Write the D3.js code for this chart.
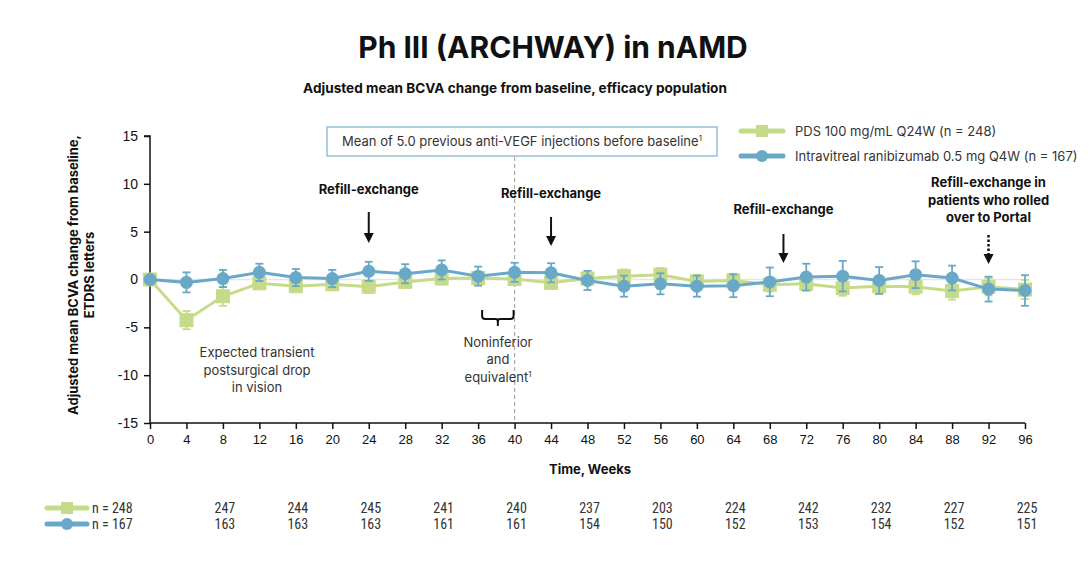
<!DOCTYPE html>
<html>
<head>
<meta charset="utf-8">
<script src="https://cdn.jsdelivr.net/npm/d3@7"></script>
<style>
  body { margin:0; background:#fff; }
  svg text { font-family: Inter, "Noto Sans", sans-serif; }
</style>
</head>
<body>
<div id="plot"></div>
<script>
// data
var weeks = [0,4,8,12,16,20,24,28,32,36,40,44,48,52,56,60,64,68,72,76,80,84,88,92,96];
var pds = [0,-4.25,-1.75,-0.4,-0.7,-0.5,-0.75,-0.25,0.1,0.15,0.05,-0.35,0.1,0.35,0.5,-0.2,-0.1,-0.55,-0.45,-0.9,-0.7,-0.75,-1.2,-0.75,-1.05];
var pdsErr = [0,0.95,1.0,0.6,0.6,0.6,0.65,0.6,0.6,0.65,0.6,0.6,0.6,0.7,0.7,0.7,0.7,0.7,0.7,0.8,0.8,0.8,0.9,0.9,1.0];
var rani = [0,-0.3,0.1,0.75,0.2,0.1,0.85,0.6,1.0,0.35,0.75,0.7,-0.1,-0.7,-0.45,-0.7,-0.65,-0.25,0.25,0.35,-0.1,0.5,0.15,-1.0,-1.15];
var raniErr = [0,1.05,0.9,0.9,0.9,0.9,1.0,1.0,1.0,1.0,1.0,1.0,1.0,1.1,1.1,1.1,1.2,1.5,1.4,1.6,1.4,1.4,1.3,1.3,1.6];
var yTicks = [15,10,5,0,-5,-10,-15];
var nWeeks = [8,16,24,32,40,48,56,64,72,80,88,96];
var nPds = [247,244,245,241,240,237,203,224,242,232,227,225];
var nRani = [163,163,163,161,161,154,150,152,153,154,152,151];
var refills = [
  {w:24, lines:['Refill-exchange'], ty:194, a0:212, a1:243, dotted:false},
  {w:44, lines:['Refill-exchange'], ty:198, a0:217, a1:246, dotted:false},
  {w:69.5, lines:['Refill-exchange'], ty:214, a0:234, a1:263, dotted:false},
  {w:92, lines:['Refill-exchange in','patients who rolled','over to Portal'], ty:187, a0:235, a1:264, dotted:true}
];

var green = '#c5db89', blue = '#69a9c7';

var W = 1092, H = 565;
var svg = d3.select('#plot').append('svg').attr('width',W).attr('height',H);

var x = d3.scaleLinear().domain([0,96]).range([150,1025]);
var y = d3.scaleLinear().domain([-15,15]).range([423,136]);

// title
svg.append('text').attr('x',553).attr('y',58).attr('text-anchor','middle')
  .style('font-size','30px').style('font-weight','700').style('fill','#111')
  .text('Ph III (ARCHWAY) in nAMD');
svg.append('text').attr('x',515).attr('y',93).attr('text-anchor','middle')
  .style('font-size','13.6px').style('font-weight','700').style('fill','#111')
  .text('Adjusted mean BCVA change from baseline, efficacy population');

// zero reference line
svg.append('line').attr('x1',x(0)).attr('x2',x(96)).attr('y1',y(0)).attr('y2',y(0))
  .attr('stroke','#e6e6e6').attr('stroke-width',1.5);

// axes
var yAxis = svg.append('g').attr('transform','translate(150,0)')
  .call(d3.axisLeft(y).tickValues(yTicks).tickFormat(String).tickSize(6).tickPadding(6));
var xAxis = svg.append('g').attr('transform','translate(0,423)')
  .call(d3.axisBottom(x).tickValues(weeks).tickFormat(String).tickSize(6).tickPadding(6));
[yAxis,xAxis].forEach(function(g){
  g.select('.domain').attr('stroke','#111').attr('stroke-width',1.5);
  g.selectAll('.tick line').attr('stroke','#111').attr('stroke-width',1.5);
  g.selectAll('.tick text').style('font-size','13px').style('fill','#111')
    .style('font-family','"Liberation Sans", Arial, sans-serif');
});
yAxis.select('.domain').attr('d','M-6,'+y(15)+'H0V'+y(-15));
xAxis.select('.domain').attr('d','M'+x(0)+',0H'+x(96));
yAxis.selectAll('.tick text').style('font-size','14px');

// axis labels
var yl = svg.append('text').attr('transform','translate(78,275) rotate(-90)')
  .attr('text-anchor','middle').style('font-size','13px').style('font-weight','700').style('fill','#111');
yl.append('tspan').attr('x',0).attr('dy',0).text('Adjusted mean BCVA change from baseline,');
yl.append('tspan').attr('x',0).attr('dy',16).text('ETDRS letters');
svg.append('text').attr('x',590).attr('y',474).attr('text-anchor','middle')
  .style('font-size','13px').style('font-weight','700').style('fill','#111').text('Time, Weeks');

// box annotation
svg.append('rect').attr('x',327).attr('y',127).attr('width',390).attr('height',29)
  .attr('fill','#fff').attr('stroke','#79b0cb').attr('stroke-width',1.2);
var bt = svg.append('text').attr('x',522).attr('y',146).attr('text-anchor','middle')
  .style('font-size','13px').style('fill','#333');
bt.append('tspan').text('Mean of 5.0 previous anti-VEGF injections before baseline');
bt.append('tspan').attr('dy',-5).style('font-size','8px').text('1');

// dashed line at week 40
svg.append('line').attr('x1',x(40)).attr('x2',x(40)).attr('y1',157).attr('y2',423)
  .attr('stroke','#aaa').attr('stroke-width',1.2).attr('stroke-dasharray','4,3');

// brace between 36 and 40
var bx0 = x(36)+4, bx1 = x(40)-1, bm = (bx0+bx1)/2;
svg.append('path')
  .attr('d','M'+bx0+',310 V316 Q'+bx0+',319 '+(bx0+3)+',319 H'+(bm-2)+' Q'+bm+',319 '+bm+',322 V326'
    +' M'+bm+',322 Q'+bm+',319 '+(bm+2)+',319 H'+(bx1-3)+' Q'+bx1+',319 '+bx1+',316 V310')
  .attr('fill','none').attr('stroke','#111').attr('stroke-width',2);
var ni = svg.append('text').attr('text-anchor','middle').style('font-size','13px').style('fill','#333');
ni.append('tspan').attr('x',498).attr('y',347).text('Noninferior');
ni.append('tspan').attr('x',498).attr('y',364).text('and');
ni.append('tspan').attr('x',498).attr('y',382).text('equivalent');
ni.append('tspan').attr('dy',-5).style('font-size','8px').text('1');

var et = svg.append('text').attr('text-anchor','middle').style('font-size','13px').style('fill','#333');
['Expected transient','postsurgical drop','in vision'].forEach(function(s,i){
  et.append('tspan').attr('x',257).attr('y',357+i*17.5).text(s);
});

// refill annotations
refills.forEach(function(r){
  var t = svg.append('text').attr('text-anchor','middle')
    .style('font-size','13px').style('font-weight','700').style('fill','#111');
  r.lines.forEach(function(s,i){
    t.append('tspan').attr('x',x(r.w)).attr('y',r.ty+i*17.5).text(s);
  });
  var ax = x(r.w);
  svg.append('line').attr('x1',ax).attr('x2',ax).attr('y1',r.a0).attr('y2',r.a1-8)
    .attr('stroke','#111').attr('stroke-width',r.dotted?2.5:2)
    .attr('stroke-dasharray',r.dotted?'2.5,2':null);
  svg.append('path')
    .attr('d','M'+(ax-5)+','+(r.a1-10)+' L'+(ax+5)+','+(r.a1-10)+' L'+ax+','+r.a1+' Z')
    .attr('fill','#111');
});

// series
function drawSeries(vals, errs, col, shape){
  var g = svg.append('g');
  var line = d3.line().x(function(d,i){return x(weeks[i]);}).y(function(d){return y(d);});
  g.append('path').datum(vals).attr('d',line).attr('fill','none').attr('stroke',col).attr('stroke-width',3);
  weeks.forEach(function(w,i){
    if(errs[i]>0){
      var e = g.append('g').attr('stroke',col).attr('stroke-width',1.8);
      e.append('line').attr('x1',x(w)).attr('x2',x(w)).attr('y1',y(vals[i]+errs[i])).attr('y2',y(vals[i]-errs[i]));
      e.append('line').attr('x1',x(w)-4).attr('x2',x(w)+4).attr('y1',y(vals[i]+errs[i])).attr('y2',y(vals[i]+errs[i]));
      e.append('line').attr('x1',x(w)-4).attr('x2',x(w)+4).attr('y1',y(vals[i]-errs[i])).attr('y2',y(vals[i]-errs[i]));
    }
  });
  weeks.forEach(function(w,i){
    if(shape==='sq'){
      g.append('rect').attr('x',x(w)-7).attr('y',y(vals[i])-7).attr('width',14).attr('height',14).attr('fill',col);
    }else{
      g.append('circle').attr('cx',x(w)).attr('cy',y(vals[i])).attr('r',6.5).attr('fill',col);
    }
  });
}
drawSeries(pds, pdsErr, green, 'sq');
drawSeries(rani, raniErr, blue, 'ci');

// legend
function legendMark(cx, cy, col, shape, len){
  svg.append('line').attr('x1',cx-len/2).attr('x2',cx+len/2).attr('y1',cy).attr('y2',cy)
    .attr('stroke',col).attr('stroke-width',5).attr('stroke-linecap','round');
  if(shape==='sq') svg.append('rect').attr('x',cx-6).attr('y',cy-6).attr('width',12).attr('height',12).attr('fill',col);
  else svg.append('circle').attr('cx',cx).attr('cy',cy).attr('r',6).attr('fill',col);
}
legendMark(762,131,green,'sq',42);
legendMark(762,156,blue,'ci',42);
svg.append('text').attr('x',795).attr('y',136).style('font-size','13px').style('fill','#333')
  .text('PDS 100 mg/mL Q24W (n = 248)');
svg.append('text').attr('x',795).attr('y',161).style('font-size','13px').style('fill','#333')
  .text('Intravitreal ranibizumab 0.5 mg Q4W (n = 167)');

// n table
legendMark(67,508,green,'sq',40);
legendMark(67,524,blue,'ci',40);
var nf = '"Liberation Sans Narrow", "Roboto Condensed", "Liberation Sans", sans-serif';
var r1 = 513, r2 = 529;
svg.append('text').attr('x',92).attr('y',r1).style('font-size','14px').style('fill','#333').style('font-family',nf).text('n = 248');
svg.append('text').attr('x',92).attr('y',r2).style('font-size','14px').style('fill','#333').style('font-family',nf).text('n = 167');
nWeeks.forEach(function(w,i){
  svg.append('text').attr('x',x(w)+2).attr('y',r1).attr('text-anchor','middle')
    .style('font-size','14px').style('fill','#333').style('font-family',nf).text(nPds[i]);
  svg.append('text').attr('x',x(w)+2).attr('y',r2).attr('text-anchor','middle')
    .style('font-size','14px').style('fill','#333').style('font-family',nf).text(nRani[i]);
});
</script>
</body>
</html>
